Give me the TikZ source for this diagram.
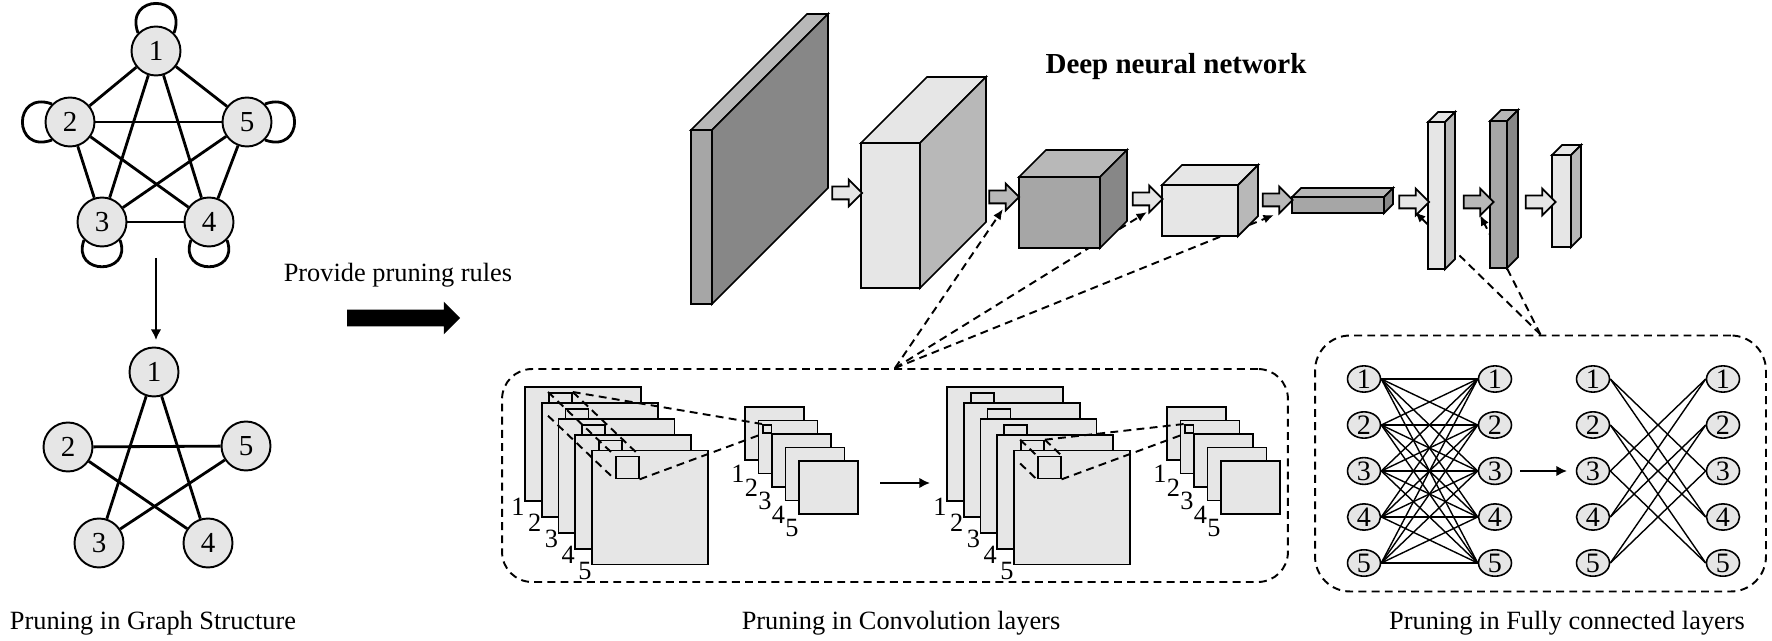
\documentclass[tikz,border=0pt]{standalone}
\usepackage{fontspec}
\setmainfont{Liberation Serif}
\usetikzlibrary{shapes.geometric,shapes.arrows,arrows.meta}

\definecolor{paleface}{HTML}{E6E6E6}
\definecolor{midface}{HTML}{B8B8B8}
\definecolor{darkface}{HTML}{A6A6A6}
\definecolor{deepface}{HTML}{878787}

\newcommand{\layerblock}[8]{%
  \filldraw[fill=#6, line width=1pt] (#1,-#2) rectangle ++(#3,-#4);
  \filldraw[fill=#8, line width=1pt] (#1,-#2) -- ++(#5,#5) -- ++(#3,0) -- ++(-#5,-#5) -- cycle;
  \filldraw[fill=#7, line width=1pt] (#1+#3,-#2) -- ++(#5,#5) -- ++(0,-#4) -- ++(-#5,-#5) -- cycle;
}

\begin{document}
\begin{tikzpicture}[x=0.02cm, y=0.02cm,
  gnode/.style={circle, draw, fill=paleface, line width=1.1pt, minimum size=0.98cm, inner sep=0pt, font=\fontsize{16.5}{19}\selectfont},
  gedge/.style={line width=1.6pt},
  unit/.style={ellipse, draw, fill=paleface, line width=0.9pt, minimum width=0.66cm, minimum height=0.52cm, inner sep=0pt, font=\fontsize{16}{19}\selectfont},
  fcedge/.style={line width=0.8pt},
  sheet/.style={draw, fill=paleface, line width=1pt},
  window/.style={draw, fill=paleface, line width=1pt, anchor=north west, inner sep=0pt, minimum width=0.46cm, minimum height=0.44cm},
  smallwin/.style={draw, fill=paleface, line width=0.9pt, anchor=north west, inner sep=0pt, minimum size=0.17cm},
  digit/.style={anchor=north east, inner sep=0pt, font=\fontsize{15}{17}\selectfont},
  blockarrow/.style={single arrow, draw, line width=1pt, minimum height=0.6cm, inner xsep=0pt, inner ysep=0.11cm, single arrow head extend=0.14cm},
  dashline/.style={line width=1.1pt, dash pattern=on 4.5pt off 3pt},
  dashbox/.style={draw, line width=1.1pt, dash pattern=on 4.5pt off 3pt, inner sep=0pt},
  flowarrow/.style={line width=1.5pt, -{Latex[length=6pt, width=6pt]}},
  caption/.style={font=\fontsize{15}{18}\selectfont}]

  \useasboundingbox (0,0) rectangle (1772,-641);

  \node[gnode] (g1) at (156,-51) {1};
  \node[gnode] (g2) at (70,-122) {2};
  \node[gnode] (g5) at (247,-122) {5};
  \node[gnode] (g3) at (102,-222) {3};
  \node[gnode] (g4) at (209,-222) {4};
  \draw[gedge] (g1) -- (g2);
  \draw[gedge] (g1) -- (g5);
  \draw[gedge] (g2) -- (g3);
  \draw[gedge] (g5) -- (g4);
  \draw[gedge] (g3) -- (g4);
  \draw[gedge] (g1) -- (g3);
  \draw[gedge] (g1) -- (g4);
  \draw[gedge] (g2) -- (g5);
  \draw[gedge] (g2) -- (g4);
  \draw[gedge] (g3) -- (g5);
  \draw[gedge] (g1.135) to[out=110, in=70, distance=0.84cm] (g1.45);
  \draw[gedge] (g2.135) to[out=160, in=200, distance=0.84cm] (g2.225);
  \draw[gedge] (g5.45) to[out=20, in=-20, distance=0.84cm] (g5.-45);
  \draw[gedge] (g3.225) to[out=250, in=290, distance=0.76cm] (g3.315);
  \draw[gedge] (g4.225) to[out=250, in=290, distance=0.76cm] (g4.315);

  \coordinate (dtop) at (156,-258);
  \coordinate (dbot) at (156,-340);
  \draw[flowarrow, line width=1.1pt] (dtop) -- (dbot);

  \node[gnode] (h1) at (154,-372) {1};
  \node[gnode] (h2) at (68,-447) {2};
  \node[gnode] (h5) at (246,-446) {5};
  \node[gnode] (h3) at (99,-543) {3};
  \node[gnode] (h4) at (208,-543) {4};
  \draw[gedge] (h1) -- (h3);
  \draw[gedge] (h1) -- (h4);
  \draw[gedge] (h2) -- (h5);
  \draw[gedge] (h2) -- (h4);
  \draw[gedge] (h3) -- (h5);

  \node[caption] (capg) at (153,-623) {Pruning in Graph Structure};
  \node[caption] (rules) at (398,-275) {Provide pruning rules};
  \node[single arrow, fill=black, minimum height=2.26cm, inner xsep=0pt, inner ysep=0.16cm, single arrow head extend=0.16cm] (rulearrow) at (399.5,-318) {};

  \node[font=\fontsize{16.5}{20}\selectfont\bfseries] (dnn) at (1176,-67) {Deep neural network};

  \node[dashbox, minimum width=15.72cm, minimum height=4.26cm, rounded corners=0.6cm] (convbox) at (895,-475.5) {};
  \node[dashbox, minimum width=9.02cm, minimum height=5.12cm, rounded corners=0.7cm] (fcbox) at (1540.5,-463.5) {};

  \coordinate (t1) at (1003,-209);
  \coordinate (t2) at (1147,-212);
  \coordinate (t3) at (1274,-215);
  \coordinate (t4) at (1415,-212);
  \coordinate (t5) at (1480,-215);
  \draw[dashline, -{Latex[length=6pt, width=5pt]}] (convbox.north) -- (t1);
  \draw[dashline, -{Latex[length=6pt, width=5pt]}] (convbox.north) -- (t2);
  \draw[dashline, -{Latex[length=6pt, width=5pt]}] (convbox.north) -- (t3);
  \draw[dashline, -{Latex[length=6pt, width=5pt]}] (fcbox.north) -- (t4);
  \draw[dashline, -{Latex[length=6pt, width=5pt]}] (fcbox.north) -- (t5);

  \layerblock{691}{130}{21}{174}{116}{darkface}{deepface}{midface}
  \layerblock{861}{143}{59}{145}{66}{paleface}{midface}{paleface}
  \layerblock{1019}{177}{81}{71}{27}{darkface}{deepface}{midface}
  \layerblock{1162}{185}{76}{51}{20}{paleface}{midface}{paleface}
  \layerblock{1292}{197}{92}{16}{9}{darkface}{deepface}{midface}
  \layerblock{1428}{122}{17}{147}{10}{paleface}{midface}{paleface}
  \layerblock{1490}{121}{17}{147}{11}{darkface}{deepface}{midface}
  \layerblock{1552}{155}{19}{92}{10}{paleface}{midface}{paleface}

  \node[blockarrow, fill=paleface] (ab) at (844,-193) {};
  \node[blockarrow, fill=midface] (bc) at (1001,-197) {};
  \node[blockarrow, fill=paleface] (cd) at (1144.5,-199) {};
  \node[blockarrow, fill=midface] (de) at (1274.5,-200) {};
  \node[blockarrow, fill=paleface] (ef) at (1411,-202) {};
  \node[blockarrow, fill=midface] (fg) at (1475.5,-202) {};
  \node[blockarrow, fill=paleface] (gh) at (1537.5,-202) {};

  \foreach \k [count=\n] in {0,...,4} {
    \filldraw[sheet] (525+16.7*\k,-387-15.9*\k) rectangle +(116,-114);
    \node[window] (wa\k) at (548+16.7*\k,-392-15.9*\k) {};
    \node[digit] (na\n) at (525+16.7*\k,-498-15.9*\k) {\n};
  }
  \foreach \k [count=\n] in {0,...,4} {
    \filldraw[sheet] (745+13.5*\k,-407-13.5*\k) rectangle +(59,-53);
    \node[digit] (nb\n) at (745+13.5*\k,-465-13.5*\k) {\n};
  }
  \node[smallwin] (swa) at (762,-424) {};
  \draw[dashline] (wa0.north west) -- (wa4.north west);
  \draw[dashline] (wa0.north east) -- (wa4.north east);
  \draw[dashline] (wa0.south west) -- (wa4.south west);
  \draw[dashline] (wa0.north east) -- (swa.north west);
  \draw[dashline] (wa4.south east) -- (swa.south west);

  \coordinate (ca1) at (880,-483);
  \coordinate (ca2) at (930,-483);
  \draw[flowarrow] (ca1) -- (ca2);

  \foreach \k [count=\n] in {0,...,4} {
    \filldraw[sheet] (947+16.7*\k,-387-15.9*\k) rectangle +(116,-114);
    \node[window] (wb\k) at (970+16.7*\k,-392-15.9*\k) {};
    \node[digit] (nc\n) at (947+16.7*\k,-498-15.9*\k) {\n};
  }
  \foreach \k [count=\n] in {0,...,4} {
    \filldraw[sheet] (1167+13.5*\k,-407-13.5*\k) rectangle +(59,-53);
    \node[digit] (nd\n) at (1167+13.5*\k,-465-13.5*\k) {\n};
  }
  \node[smallwin] (swb) at (1184,-424) {};
  \draw[dashline] (wb3.north west) -- (wb4.north west);
  \draw[dashline] (wb3.north east) -- (wb4.north east);
  \draw[dashline] (wb3.south west) -- (wb4.south west);
  \draw[dashline] (wb3.north east) -- (swb.north west);
  \draw[dashline] (wb4.south east) -- (swb.south west);

  \node[caption] (capc) at (901,-623) {Pruning in Convolution layers};

  \foreach \n in {1,...,5} {
    \node[unit] (fa\n) at (1364,-333-46*\n) {\n};
    \node[unit] (fb\n) at (1495,-333-46*\n) {\n};
    \node[unit] (fc\n) at (1593,-333-46*\n) {\n};
    \node[unit] (fd\n) at (1723,-333-46*\n) {\n};
  }
  \foreach \i in {1,...,5}
    \foreach \j in {1,...,5}
      \draw[fcedge] (fa\i.east) -- (fb\j.west);
  \foreach \i/\j in {1/3,1/4,2/4,2/5,3/1,3/5,4/1,4/2,5/2,5/3}
    \draw[fcedge] (fc\i.east) -- (fd\j.west);

  \coordinate (fa) at (1520,-471);
  \coordinate (fz) at (1567,-471);
  \draw[flowarrow] (fa) -- (fz);

  \node[caption] (capf) at (1567,-623) {Pruning in Fully connected layers};

\end{tikzpicture}
\end{document}
